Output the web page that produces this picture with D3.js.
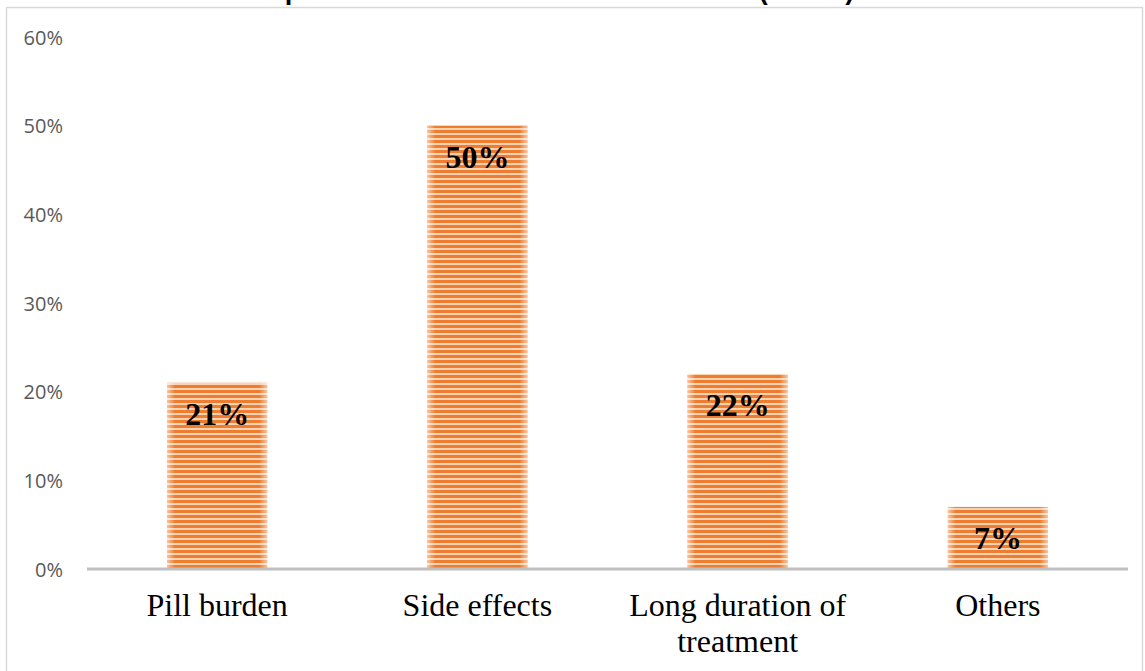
<!DOCTYPE html>
<html>
<head>
<meta charset="utf-8">
<script src="https://cdn.jsdelivr.net/npm/d3@7"></script>
<style>
html,body{margin:0;padding:0;background:#fff;overflow:hidden;}
svg{display:block;}
</style>
</head>
<body>
<svg id="chart" width="1145" height="671"></svg>
<script>
const categories = [["Pill burden"], ["Side effects"], ["Long duration of", "treatment"], ["Others"]];
const values = [21, 50, 22, 7];
const yTicks = [0, 10, 20, 30, 40, 50, 60];
const titleText = "Patients' reasons to poor adherence to anti-TB treatment (n=150)";

const W = 1145, H = 671;
const svg = d3.select("#chart");
const defs = svg.append("defs");

// striped pattern
const pat = defs.append("pattern").attr("id", "stripes")
  .attr("patternUnits", "userSpaceOnUse").attr("width", 10).attr("height", 5);
pat.append("rect").attr("width", 10).attr("height", 5).attr("fill", "#fbd3b2");
pat.append("rect").attr("width", 10).attr("height", 3).attr("fill", "#ee7d2f");

const grad = defs.append("linearGradient").attr("id", "edge").attr("x1", 0).attr("x2", 1).attr("y1", 0).attr("y2", 0);
grad.append("stop").attr("offset", "0%").attr("stop-color", "#fff").attr("stop-opacity", 0.55);
grad.append("stop").attr("offset", "8%").attr("stop-color", "#fff").attr("stop-opacity", 0.0);
grad.append("stop").attr("offset", "92%").attr("stop-color", "#fff").attr("stop-opacity", 0.0);
grad.append("stop").attr("offset", "100%").attr("stop-color", "#fff").attr("stop-opacity", 0.55);

// outer chart border
svg.append("rect").attr("x", 6.5).attr("y", 7.5).attr("width", 1136).attr("height", 700)
  .attr("fill", "none").attr("stroke", "#d9d9d9").attr("stroke-width", 1.5);

// title (cut off at top, as in reference)
svg.append("text").attr("x", 438).attr("y", -1)
  .attr("text-anchor", "middle")
  .attr("font-family", "Liberation Sans, Arial, sans-serif")
  .attr("font-weight", "bold").attr("font-size", 27)
  .attr("fill", "#000").text(titleText);

const x = d3.scaleBand().domain(categories.map(d => d.join(" ")))
  .range([87, 1128]).paddingInner(0.615).paddingOuter(0.3075);
const y = d3.scaleLinear().domain([0, 60]).range([569, 37]);

// y axis labels
const yAxis = d3.axisLeft(y).tickValues(yTicks).tickFormat(d => d + "%").tickSize(0).tickPadding(0);
const yg = svg.append("g").attr("transform", "translate(63,0)").call(yAxis);
yg.select(".domain").remove();
yg.selectAll("text").attr("font-family", "Open Sans, sans-serif").attr("font-size", 20)
  .attr("fill", "#595959").attr("dy", "0.35em");

// bars
const bars = svg.append("g");
categories.forEach((c, i) => {
  const key = c.join(" ");
  bars.append("rect").attr("x", x(key)).attr("y", y(values[i]))
    .attr("width", x.bandwidth()).attr("height", y(0) - y(values[i]))
    .attr("fill", "url(#stripes)");
  bars.append("rect").attr("x", x(key)).attr("y", y(values[i]))
    .attr("width", x.bandwidth()).attr("height", y(0) - y(values[i]))
    .attr("fill", "url(#edge)");
  bars.append("text").attr("x", x(key) + x.bandwidth() / 2).attr("y", y(values[i]) + 42)
    .attr("text-anchor", "middle")
    .attr("font-family", "Liberation Serif, Times New Roman, serif")
    .attr("font-weight", "bold").attr("font-size", 32).attr("fill", "#000")
    .text(values[i] + "%");
});

// baseline
svg.append("line").attr("x1", 87).attr("x2", 1128).attr("y1", y(0)).attr("y2", y(0))
  .attr("stroke", "#bfbfbf").attr("stroke-width", 3);

// category labels
categories.forEach(c => {
  const key = c.join(" ");
  const t = svg.append("text").attr("text-anchor", "middle")
    .attr("font-family", "Liberation Serif, Times New Roman, serif")
    .attr("font-size", 32).attr("fill", "#000");
  c.forEach((line, j) => {
    t.append("tspan").attr("x", x(key) + x.bandwidth() / 2).attr("y", 616 + j * 36).text(line);
  });
});
</script>
</body>
</html>
